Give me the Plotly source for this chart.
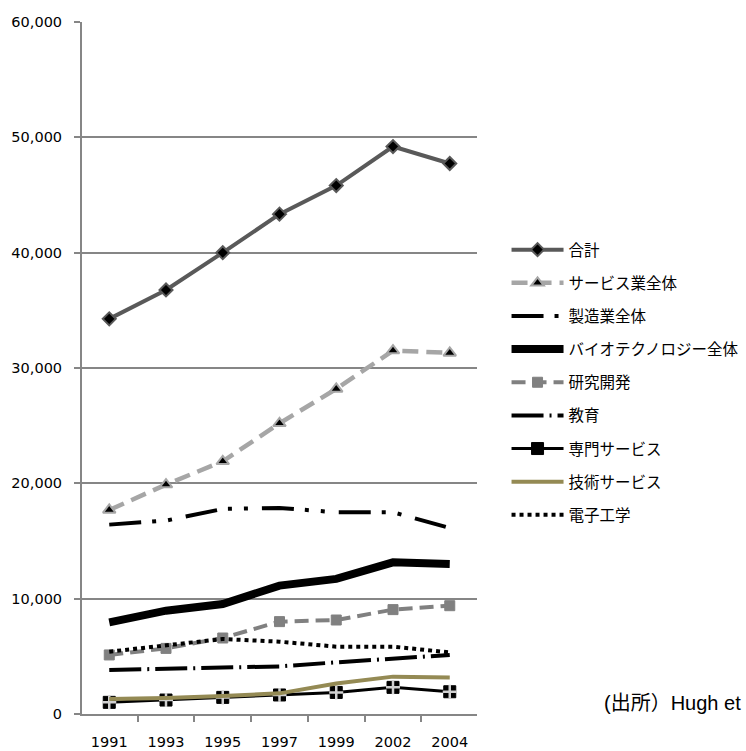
import plotly.graph_objects as go

years = ["1991", "1993", "1995", "1997", "1999", "2002", "2004"]

total = [34260, 36770, 40000, 43340, 45820, 49200, 47730]
services_all = [17690, 19890, 21910, 25200, 28190, 31510, 31310]
manufacturing_all = [16420, 16770, 17780, 17870, 17490, 17490, 16130]
biotech_all = [7950, 8960, 9540, 11130, 11710, 13150, 13010]
rnd = [5120, 5690, 6590, 8010, 8150, 9050, 9390]
education = [3820, 3900, 4040, 4130, 4480, 4770, 5120]
prof_services = [1010, 1210, 1440, 1650, 1870, 2310, 1930]
tech_services = [1300, 1380, 1560, 1790, 2650, 3240, 3170]
electronics = [5400, 5920, 6500, 6270, 5840, 5840, 5340]

names = ["合計", "サービス業全体", "製造業全体", "バイオテクノロジー全体", "研究開発",
         "教育", "専門サービス", "技術サービス", "電子工学"]

fig = go.Figure()

def add(y, name, color, width, dash="solid", mode="lines", marker=None):
    kw = dict(x=years, y=y, name=name, mode=mode, legendgroup=name,
              line=dict(color=color, width=width, dash=dash))
    if marker:
        kw["marker"] = marker
    fig.add_trace(go.Scatter(**kw))

add(total, names[0], "#595959", 4, mode="lines+markers",
    marker=dict(symbol="diamond", size=10, color="black", line=dict(color="#595959", width=2)))
add(services_all, names[1], "#A6A6A6", 4.5, dash="16px,8px", mode="lines+markers",
    marker=dict(symbol="triangle-up", size=11, color="black", line=dict(color="#A6A6A6", width=2)))
add(manufacturing_all, names[2], "black", 4, dash="32px,11px,4px,12px,4px,14px")
add(biotech_all, names[3], "black", 8)
add(rnd, names[4], "#808080", 4, dash="14px,7px", mode="lines+markers",
    marker=dict(symbol="square", size=10, color="#808080", line=dict(color="#808080", width=1)))
add(education, names[5], "black", 4, dash="32px,6px,2px,6px")
add(prof_services, names[6], "black", 3, mode="lines+markers",
    marker=dict(symbol="square", size=12, color="black", line=dict(color="black", width=1)))
fig.add_trace(go.Scatter(x=years, y=prof_services, mode="markers", legendgroup=names[6],
                         showlegend=False, hoverinfo="skip",
                         marker=dict(symbol="cross-thin", size=10,
                                     line=dict(color="#D0D0D0", width=2.5))))
add(tech_services, names[7], "#948A54", 4)
add(electronics, names[8], "black", 4, dash="dot")

fig.update_layout(
    width=746, height=751,
    margin=dict(l=82, r=269, t=22, b=37),
    plot_bgcolor="white", paper_bgcolor="white",
    font=dict(family="DejaVu Sans", size=14, color="black"),
    showlegend=True,
    legend=dict(xref="container", x=0.679, yref="paper", y=0.695, xanchor="left", yanchor="top",
                font=dict(family="Noto Sans CJK JP", size=15.5, color="black"),
                itemwidth=52, tracegroupgap=10, traceorder="grouped",
                bgcolor="rgba(0,0,0,0)"),
    xaxis=dict(type="category", showgrid=False, showline=True, linecolor="#868686", linewidth=2,
               ticks="outside", tickson="boundaries", ticklen=6, tickcolor="#868686", tickwidth=2,
               tickfont=dict(size=14.5), zeroline=False, automargin=False, ticklabelstandoff=14),
    yaxis=dict(range=[0, 60000], dtick=10000, tickformat=",d", showgrid=True,
               gridcolor="#868686", gridwidth=2, showline=True, linecolor="#868686", linewidth=2,
               ticks="outside", ticklen=6, tickcolor="#868686", tickwidth=2, zeroline=False,
               tickfont=dict(size=14.5), automargin=False, ticklabelstandoff=9),
    annotations=[dict(text="(出所）Hugh et", xref="paper", yref="paper", x=1.316, y=0.016,
                      xanchor="left", yanchor="middle", showarrow=False,
                      font=dict(family="Liberation Sans, Noto Sans CJK JP", size=20, color="black"))],
)

fig.write_html("out.html")
